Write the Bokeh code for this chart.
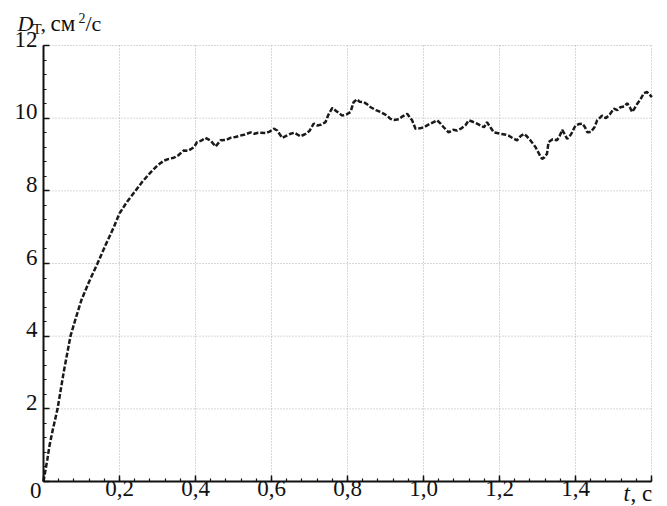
import numpy as np
from bokeh.plotting import figure
from bokeh.core.properties import value
from bokeh.models import (Range1d, FixedTicker, CustomJSTickFormatter, Label, LabelSet,
                          LinearAxis, ColumnDataSource)
from bokeh.embed import file_html
from bokeh.resources import INLINE

# ---- data ----
t_values = [0.0, 0.005, 0.01, 0.016, 0.025, 0.037, 0.045, 0.053, 0.062, 0.071, 0.085, 0.10,
            0.12, 0.142, 0.163, 0.185, 0.20, 0.22, 0.242, 0.26, 0.282, 0.30, 0.317, 0.33,
            0.343, 0.355, 0.369, 0.38, 0.396, 0.404, 0.415, 0.426, 0.44, 0.453, 0.466, 0.48,
            0.492, 0.505, 0.518, 0.53, 0.545, 0.555, 0.565, 0.584, 0.595, 0.606, 0.615, 0.628,
            0.64, 0.65, 0.66, 0.676, 0.69, 0.70, 0.711, 0.72, 0.73, 0.742, 0.75, 0.76,
            0.77, 0.786, 0.797, 0.808, 0.816, 0.825, 0.832, 0.843, 0.852, 0.861, 0.875, 0.887,
            0.896, 0.904, 0.913, 0.922, 0.935, 0.945, 0.957, 0.97, 0.979, 0.99, 1.001, 1.018,
            1.036, 1.045, 1.053, 1.066, 1.078, 1.088, 1.10, 1.11, 1.119, 1.13, 1.141, 1.159,
            1.167, 1.176, 1.185, 1.203, 1.214, 1.224, 1.235, 1.246, 1.255, 1.264, 1.272, 1.282,
            1.295, 1.305, 1.312, 1.318, 1.325, 1.329, 1.34, 1.351, 1.358, 1.365, 1.372, 1.378,
            1.388, 1.40, 1.41, 1.418, 1.425, 1.431, 1.44, 1.45, 1.457, 1.47, 1.48, 1.49,
            1.501, 1.51, 1.518, 1.528, 1.536, 1.543, 1.549, 1.556, 1.562, 1.57, 1.58, 1.588,
            1.595, 1.601]
d_values = [0.0, 0.3, 0.6, 1.0, 1.45, 2.0, 2.5, 3.0, 3.5, 4.0, 4.5, 5.0,
            5.5, 6.0, 6.5, 7.0, 7.38, 7.7, 8.0, 8.25, 8.51, 8.7, 8.83, 8.88,
            8.91, 8.98, 9.11, 9.10, 9.20, 9.34, 9.38, 9.46, 9.38, 9.22, 9.39, 9.40,
            9.46, 9.48, 9.52, 9.55, 9.61, 9.57, 9.60, 9.59, 9.63, 9.71, 9.66, 9.46,
            9.52, 9.57, 9.60, 9.50, 9.57, 9.65, 9.85, 9.80, 9.82, 9.89, 10.10, 10.28,
            10.20, 10.07, 10.10, 10.17, 10.44, 10.52, 10.45, 10.44, 10.38, 10.30, 10.22, 10.17,
            10.12, 10.07, 9.98, 9.95, 9.97, 10.05, 10.12, 9.94, 9.71, 9.72, 9.75, 9.85,
            9.94, 9.85, 9.75, 9.61, 9.68, 9.66, 9.72, 9.80, 9.94, 9.90, 9.85, 9.75,
            9.89, 9.75, 9.61, 9.57, 9.55, 9.52, 9.45, 9.39, 9.50, 9.57, 9.50, 9.38,
            9.20, 9.00, 8.88, 8.92, 9.02, 9.34, 9.42, 9.39, 9.50, 9.68, 9.55, 9.43,
            9.55, 9.80, 9.84, 9.85, 9.75, 9.61, 9.62, 9.75, 9.94, 10.07, 10.00, 10.10,
            10.26, 10.22, 10.30, 10.32, 10.41, 10.30, 10.17, 10.28, 10.39, 10.50, 10.69, 10.72,
            10.65, 10.58]

x_tick_values = [0.0, 0.2, 0.4, 0.6, 0.8, 1.0, 1.2, 1.4, 1.6]
x_label_values = [0.2, 0.4, 0.6, 0.8, 1.0, 1.2, 1.4]
x_tick_labels = ["0,2", "0,4", "0,6", "0,8", "1,0", "1,2", "1,4"]
y_tick_values = [0, 2, 4, 6, 8, 10, 12]
y_label_values = [2, 4, 6, 8, 10, 12]
y_tick_labels = ["2", "4", "6", "8", "10", "12"]
x_minor_step = 0.04
y_minor_step = 0.4
x_limits = (0.0, 1.6)
y_limits = (0.0, 12.0)

# ---- layout (pixels) ----
W, H = 667, 506
FRAME_LEFT, FRAME_RIGHT, FRAME_TOP, FRAME_BOTTOM = 43, 651, 45, 481
px_per_x = (FRAME_RIGHT - FRAME_LEFT) / (x_limits[1] - x_limits[0])
px_per_y = (FRAME_BOTTOM - FRAME_TOP) / (y_limits[1] - y_limits[0])
x_range = Range1d(x_limits[0] - FRAME_LEFT / px_per_x, x_limits[1] + (W - FRAME_RIGHT) / px_per_x)
y_range = Range1d(y_limits[0] - (H - FRAME_BOTTOM) / px_per_y, y_limits[1] + FRAME_TOP / px_per_y)

SERIF = "Times New Roman"
INK = "#111111"
BL = 7  # baseline correction for text labels (px)

p = figure(width=W, height=H, output_backend="svg", toolbar_location=None,
           x_range=x_range, y_range=y_range, x_axis_location=None, y_axis_location=None,
           min_border=0)
p.outline_line_color = None
p.background_fill_color = "white"
p.border_fill_color = "white"
p.grid.visible = False

x_minor = list(np.round(np.arange(x_limits[0], x_limits[1] + 1e-9, x_minor_step), 4))
y_minor = list(np.round(np.arange(y_limits[0], y_limits[1] + 1e-9, y_minor_step), 4))

xaxis = LinearAxis(fixed_location=0, bounds=x_limits,
                   ticker=FixedTicker(ticks=x_tick_values, minor_ticks=x_minor),
                   formatter=CustomJSTickFormatter(code="return '';"))
yaxis = LinearAxis(fixed_location=0, bounds=y_limits,
                   ticker=FixedTicker(ticks=y_tick_values, minor_ticks=y_minor),
                   formatter=CustomJSTickFormatter(code="return '';"))
for ax in (xaxis, yaxis):
    ax.axis_line_width = 2
    ax.axis_line_color = INK
    ax.major_tick_in = 6
    ax.major_tick_out = 0
    ax.minor_tick_in = 3
    ax.minor_tick_out = 0
    ax.major_tick_line_color = INK
    ax.minor_tick_line_color = INK
    ax.major_tick_line_width = 1.5
    ax.minor_tick_line_width = 1.2

# dotted grid inside the data box
gx = x_tick_values[1:]
gy = y_tick_values[1:]
p.segment(x0=gx, y0=[y_limits[0]] * len(gx), x1=gx, y1=[y_limits[1]] * len(gx),
          line_color="#b0b0b0", line_width=1, line_dash="1 2")
p.segment(x0=[x_limits[0]] * len(gy), y0=gy, x1=[x_limits[1]] * len(gy), y1=gy,
          line_color="#b0b0b0", line_width=1, line_dash="1 2")

p.line(t_values, d_values, line_color="#1a1a1a", line_width=2.5, line_dash="5 2")

p.add_layout(xaxis, "below")
p.add_layout(yaxis, "left")

# tick labels
xsrc = ColumnDataSource(dict(x=x_label_values, y=[0] * len(x_label_values), text=x_tick_labels))
ysrc = ColumnDataSource(dict(x=[0] * len(y_label_values), y=y_label_values, text=y_tick_labels))
p.add_layout(LabelSet(source=xsrc, x="x", y="y", text="text", text_align="center",
                      text_baseline="alphabetic", y_offset=-21 + BL,
                      text_font=value(SERIF), text_font_size=value("23px"), text_color=INK))
p.add_layout(LabelSet(source=ysrc, x="x", y="y", text="text", text_align="right",
                      text_baseline="alphabetic", x_offset=-6, y_offset=-8 + BL,
                      text_font=value(SERIF), text_font_size=value("23px"), text_color=INK))

def lab(text, x, y, xo, yo, size, style="normal", align="left"):
    p.add_layout(Label(x=x, y=y, x_offset=xo, y_offset=yo + BL, text=text,
                       text_font=SERIF, text_font_size=size, text_font_style=style,
                       text_align=align, text_baseline="alphabetic", text_color=INK))

# axis titles
lab("D", 0, 12, -26, 15, "22px", "italic")
lab("Т", 0, 12, -11, 10, "15px")
lab(",", 0, 12, -3, 15, "22px")
lab("см", 0, 12, 7, 15, "23px")
lab("2", 0, 12, 35, 21, "14px")
lab("/с", 0, 12, 42, 15, "22px")
lab("0", 0, 0, -2, -16, "23px", align="right")
lab("t", 1.6, 0, -28, -19, "23px", "italic")
lab(", с", 1.6, 0, -21, -19, "23px")

open("out.html", "w").write(file_html(p, INLINE))
